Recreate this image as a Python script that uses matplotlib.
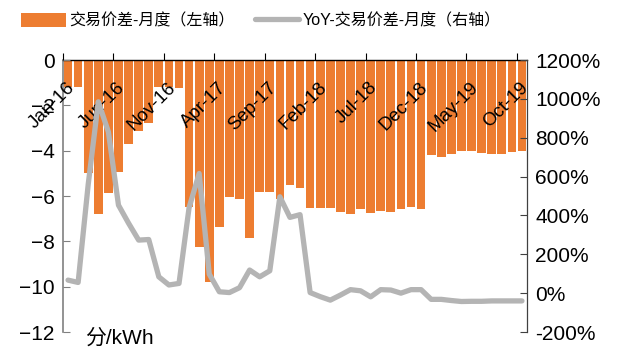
import matplotlib
matplotlib.use('Agg')
import matplotlib.pyplot as plt
from matplotlib.ticker import FuncFormatter, FixedLocator
from matplotlib.patches import Patch
from matplotlib.lines import Line2D
import matplotlib.transforms as mtransforms

plt.rcParams['font.family'] = ['Liberation Sans', 'Noto Sans CJK SC', 'DejaVu Sans']

# monthly data, Jan-16 .. Oct-19
months = ['Jan-16', 'Feb-16', 'Mar-16', 'Apr-16', 'May-16', 'Jun-16', 'Jul-16', 'Aug-16',
          'Sep-16', 'Oct-16', 'Nov-16', 'Dec-16', 'Jan-17', 'Feb-17', 'Mar-17', 'Apr-17',
          'May-17', 'Jun-17', 'Jul-17', 'Aug-17', 'Sep-17', 'Oct-17', 'Nov-17', 'Dec-17',
          'Jan-18', 'Feb-18', 'Mar-18', 'Apr-18', 'May-18', 'Jun-18', 'Jul-18', 'Aug-18',
          'Sep-18', 'Oct-18', 'Nov-18', 'Dec-18', 'Jan-19', 'Feb-19', 'Mar-19', 'Apr-19',
          'May-19', 'Jun-19', 'Jul-19', 'Aug-19', 'Sep-19', 'Oct-19']
spread = [-1.19, -1.19, -4.98, -6.80, -5.85, -4.93, -3.70, -3.15,
          -2.77, -1.18, -1.18, -1.22, -6.47, -8.23, -9.78, -7.35,
          -6.03, -6.13, -7.86, -5.81, -5.81, -6.13, -5.51, -5.63,
          -6.51, -6.53, -6.53, -6.72, -6.80, -6.57, -6.76, -6.66,
          -6.69, -6.57, -6.47, -6.57, -4.19, -4.26, -4.16, -4.03,
          -4.01, -4.12, -4.13, -4.13, -4.07, -4.01]
yoy = [67, 55, 560, 985, 830, 453, 360, 273,
       276, 84, 42, 50, 440, 616, 98, 7,
       3, 28, 119, 84, 115, 496, 390, 404,
       3, -18, -36, -10, 18, 12, -19, 18,
       16, 0, 18, 18, -32, -32, -38, -43,
       -42, -42, -40, -40, -40, -40]

bar_label = '交易价差-月度（左轴）'
line_label = 'YoY-交易价差-月度（右轴）'
orange = '#ED7D31'
grey = '#B4B4B4'

fig = plt.figure(figsize=(6.24, 3.47), dpi=100)
ax = fig.add_axes([63/624, 15/347, 464/624, 272/347])
x = list(range(len(months)))

ax.bar(x, spread, width=0.86, color=orange, zorder=1)
ax.set_axisbelow(False)
ax.set_xlim(-0.5, len(months) - 0.5)
ax.set_ylim(-12, 0)
ax.set_yticks(range(-12, 1, 2))

ax2 = ax.twinx()
ax2.plot(x, yoy, color=grey, lw=3.8, solid_joinstyle='round', solid_capstyle='round')
ax2.set_ylim(-200, 1200)
ax2.set_yticks(range(-200, 1201, 200))
ax2.yaxis.set_major_formatter(FuncFormatter(lambda v, p: '%d%%' % v))

# x axis sits on top (value 0), labels hang inside the plot
ax.xaxis.set_ticks_position('top')
major = x[::5]
ax.set_xticks(major)
ax.xaxis.set_minor_locator(FixedLocator([m - 0.5 for m in major]))
ax.set_xticklabels([months[i] for i in major], rotation=45, ha='right', va='top',
                   rotation_mode='anchor', fontsize=13.5)
ax.tick_params(axis='x', which='major', length=0, pad=-13.5, labeltop=True, labelbottom=False)
ax.tick_params(axis='x', which='minor', direction='out', length=5, width=0.8,
               top=True, bottom=False, color='black')
off = mtransforms.ScaledTranslation(-2/100, 0, fig.dpi_scale_trans)
for lab in ax.get_xticklabels():
    lab.set_transform(lab.get_transform() + off)

ax.tick_params(axis='y', direction='in', length=5, color='#808080', labelsize=15, pad=6)
ax2.tick_params(axis='y', direction='in', length=5, color='#404040', labelsize=15, pad=6)

for a in (ax, ax2):
    a.spines['bottom'].set_visible(False)
ax.spines['top'].set_color('black')
ax.spines['top'].set_linewidth(1.0)
ax.spines['left'].set_color('#808080')
ax.spines['left'].set_linewidth(1.2)
ax2.spines['right'].set_color('#404040')
ax2.spines['right'].set_linewidth(0.9)
ax2.spines['top'].set_visible(False)
ax2.spines['left'].set_visible(False)
ax.spines['right'].set_visible(False)

ax.text(0.047, -0.022, '分/kWh', transform=ax.transAxes, fontsize=15,
        ha='left', va='center')

handles = [Patch(facecolor=orange, edgecolor='none', label=bar_label),
           Line2D([0], [0], color=grey, lw=3.8, solid_capstyle='round', label=line_label)]
fig.legend(handles=handles, loc='center', bbox_to_anchor=(261/624, 1 - 21/347), ncol=2,
           frameon=False, fontsize=11.5, handlelength=2.8, handleheight=0.95,
           handletextpad=0.2, columnspacing=1.25, borderpad=0)

fig.savefig('out.png', dpi=100)
